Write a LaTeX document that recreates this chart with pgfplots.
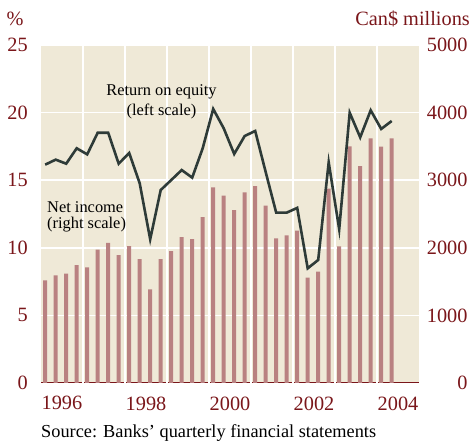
\documentclass[border=0pt]{standalone}
\usepackage{pgfplots}
\pgfplotsset{compat=1.18}
\usepackage{pgfplotstable}
\usepackage{fontspec}
\setmainfont{Liberation Serif}
\definecolor{bg}{RGB}{239,233,215}
\definecolor{barc}{RGB}{185,129,129}
\definecolor{linec}{RGB}{46,59,56}
\definecolor{tickred}{RGB}{122,22,26}
\pgfplotstableread{
x ni roe
0.10 1519 16.15
0.35 1593 16.52
0.60 1617 16.22
0.85 1745 17.36
1.10 1711 16.91
1.35 1972 18.51
1.60 2071 18.51
1.85 1893 16.22
2.10 2026 17.01
2.35 1834 14.77
2.60 1386 10.63
2.85 1834 14.27
3.10 1952 15.01
3.35 2159 15.75
3.60 2130 15.19
3.85 2455 17.36
4.10 2894 20.27
4.35 2770 18.84
4.60 2559 16.94
4.85 2820 18.27
5.10 2914 18.64
5.35 2622 15.60
5.60 2140 12.60
5.85 2184 12.60
6.10 2253 12.95
6.35 1557 8.48
6.60 1646 9.10
6.85 2874 16.32
7.10 2022 11.37
7.35 3500 19.99
7.60 3209 18.17
7.85 3619 20.17
8.10 3495 18.79
8.35 3619 19.38
}\data
\newcommand{\tfont}{\fontsize{20.3}{22}\selectfont}
\newcommand{\afont}{\fontsize{16.4}{18}\selectfont}
\begin{document}
\begin{tikzpicture}[x=1pt,y=1pt]
\begin{axis}[
  width=378pt, height=338pt, scale only axis,
  xmin=0, xmax=9, ymin=0, ymax=5000,
  axis y line*=right, axis x line*=bottom,
  x axis line style={draw=tickred, line width=1pt, -},
  y axis line style={draw=none},
  axis background/.style={fill=bg},
  major tick length=0pt,
  xtick={0.5,2.5,4.5,6.5,8.5},
  xticklabels={1996,1998,2000,2002,2004},
  extra x ticks={1,2,3,4,5,6,7,8},
  extra x tick labels={},
  extra x tick style={grid=major, major tick length=0pt},
  ytick={0,1000,2000,3000,4000,5000},
  ymajorgrids,
  grid style={white, line width=1.7pt},
  scaled y ticks=false,
  /pgf/number format/assume math mode=true,
  /pgf/number format/1000 sep={},
  ticklabel style={font=\tfont, text=tickred},
  yticklabel style={anchor=east, xshift=52pt},
  xticklabel style={yshift=-10pt},
]
\addplot[ybar, bar width=4pt, bar shift=0pt, fill=barc, draw=none] table[x=x, y=ni] {\data};
\coordinate (SW) at (rel axis cs:0,0);
\end{axis}
\begin{axis}[
  width=378pt, height=338pt, scale only axis,
  xmin=0, xmax=9, ymin=0, ymax=25,
  axis y line*=left, axis x line=none,
  y axis line style={draw=none},
  major tick length=0pt,
  xtick=\empty,
  ytick={0,5,10,15,20,25},
  /pgf/number format/assume math mode=true,
  ticklabel style={font=\tfont, text=tickred},
  yticklabel style={anchor=east, xshift=-9.7pt},
]
\addplot[linec, line width=2.6pt, line join=miter, mark=none] table[x=x, y=roe] {\data};
\end{axis}
\begin{scope}[shift={(SW)}]
\node[text=tickred, font=\tfont] at (15-41,383-19) {\%};
\node[text=tickred, font=\tfont, anchor=east, inner sep=0pt] at (470-41,383-19) {Can\$ millions};
\node[font=\afont] at (161.5-41,383-91.7) {Return on equity};
\node[font=\afont] at (161.5-41,383-111) {(left scale)};
\node[font=\afont, anchor=west, inner sep=0pt] at (47-41,383-206.7) {Net income};
\node[font=\afont, anchor=west, inner sep=0pt] at (47-41,383-225) {(right scale)};
\node[font=\fontsize{18.3}{20}\selectfont, anchor=west, inner sep=0pt] at (41-41,383-433) {Source: Banks' quarterly financial statements};
\pgfresetboundingbox
\path (-41,-60) rectangle (474-41,443-60);
\end{scope}
\end{tikzpicture}
\end{document}
